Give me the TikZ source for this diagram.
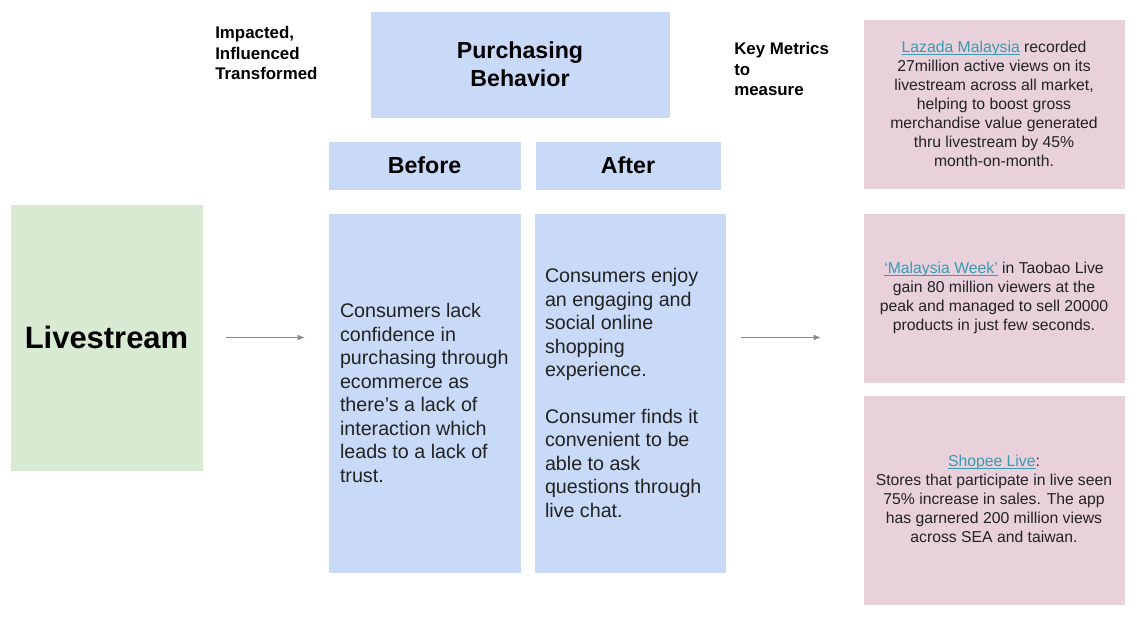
\documentclass[tikz,border=0pt]{standalone}
\usepackage{fontspec}
\setmainfont{Liberation Sans}
\usetikzlibrary{positioning}
\usetikzlibrary{calc}
\usetikzlibrary{arrows.meta}

\definecolor{purchblue}{HTML}{C9DAF8}
\definecolor{livegreen}{HTML}{D9EAD3}
\definecolor{metricpink}{HTML}{E9D1DC}
\definecolor{linkteal}{HTML}{3A9AB0}
\definecolor{textgrey}{HTML}{222222}
\definecolor{arrowgrey}{HTML}{8A8A8A}
\newcommand{\linktext}[1]{\textcolor{linkteal}{\underline{\smash{#1}}}}

\begin{document}
\begin{tikzpicture}[
bluenode/.style={rectangle, draw=white, fill=purchblue, align=center, inner sep=0pt},
headnode/.style={bluenode, font=\fontsize{16.5}{20}\selectfont\bfseries},
bodytext/.style={align=left, inner sep=0pt, text=textgrey, font=\fontsize{14}{16.7}\selectfont},
metricnode/.style={rectangle, draw=white, fill=metricpink, align=center, text=textgrey,
minimum width=6.55cm, inner sep=0pt, font=\fontsize{11.2}{13.5}\selectfont},
labelnode/.style={align=left, inner sep=0pt, font=\fontsize{12}{14.9}\selectfont\bfseries},
arrowline/.style={draw=arrowgrey, line width=0.5pt, -{Latex[length=5pt, width=4pt]}}
]

\useasboundingbox[fill=white] (0,0) rectangle (28.425,15.9);

%Nodes
\node[headnode, minimum width=7.5cm, minimum height=2.675cm] (purch) at (13.0,14.2875) {Purchasing\\Behavior};
\node[headnode, minimum width=4.825cm, minimum height=1.225cm] (beforehead) at (10.6125,11.7625) {Before};
\node[headnode, minimum width=4.65cm, minimum height=1.225cm] (afterhead) at (15.7,11.7625) {After};
\node[bluenode, minimum width=4.825cm, minimum height=9cm] (before) at (10.6125,6.075) {};
\node[bluenode, minimum width=4.8cm, minimum height=9cm] (after) at (15.75,6.075) {};
\node[rectangle, draw=white, fill=livegreen, minimum width=4.825cm, minimum height=6.675cm,
font=\fontsize{22}{26}\selectfont\bfseries] (live) at (2.6625,7.4625) {Livestream};

\node[bodytext, right=0.3cm of before.west] (beforetxt) {Consumers lack\\confidence in\\purchasing through\\ecommerce as\\there's a lack of\\interaction which\\leads to a lack of\\trust.};
\node[bodytext, right=0.275cm of after.west] (aftertxt) {Consumers enjoy\\an engaging and\\social online\\shopping\\experience.\\[16.7pt]Consumer finds it\\convenient to be\\able to ask\\questions through\\live chat.};

\node[metricnode, minimum height=4.25cm] (lazada) at (24.85,13.3) {\linktext{Lazada Malaysia} recorded\\27million active views on its\\livestream across all market,\\helping to boost gross\\merchandise value generated\\thru livestream by 45\%\\month-on-month.};
\node[metricnode, minimum height=4.25cm] (taobao) at (24.85,8.45) {\linktext{`Malaysia Week'} in Taobao Live\\gain 80 million viewers at the\\peak and managed to sell 20000\\products in just few seconds.};
\node[metricnode, minimum height=5.25cm] (shopee) at (24.85,3.4) {\linktext{Shopee Live}:\\Stores that participate in live seen\\75\% increase in sales. The app\\has garnered 200 million views\\across SEA and taiwan.};

\node[labelnode, anchor=west] (impact) at (5.375,14.575) {Impacted,\\Influenced\\Transformed};
\node[labelnode, anchor=west] (keymetrics) at (18.35,14.175) {Key Metrics\\to\\measure};

%Lines
\draw[arrowline, shorten <=0.575cm, shorten >=0.575cm] (live.east) -- (live.east -| before.west);
\draw[arrowline, shorten <=0.375cm, shorten >=1.05cm] (after.east |- live.east) -- (taobao.west |- live.east);

\end{tikzpicture}
\end{document}
